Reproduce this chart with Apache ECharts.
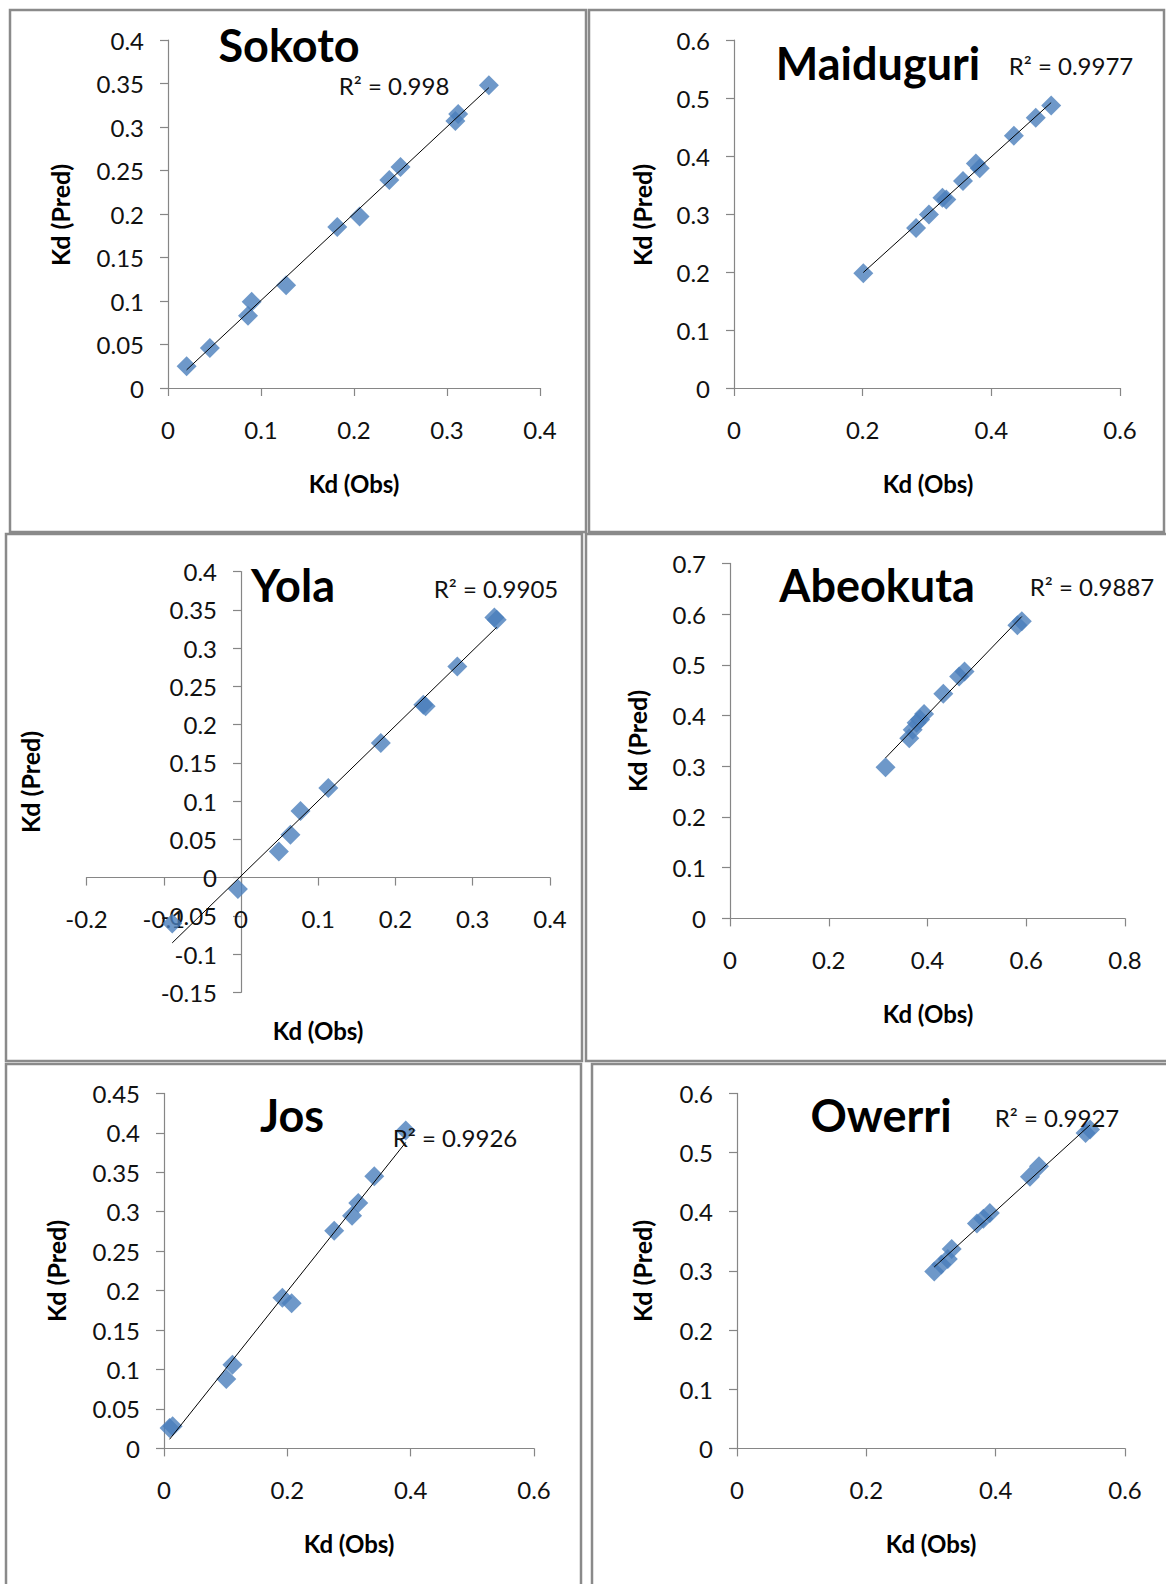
<html>
<head>
    <meta charset="utf-8">
    <title>Kd observed vs predicted</title>
    <style type="text/css">
        html, body { margin: 0; padding: 0; background: #fff; }
        #chart { width: 1166px; height: 1584px; }
    </style>
</head>
<body>
    <div id="chart"></div>

<script src="https://cdn.jsdelivr.net/npm/echarts@6/dist/echarts.min.js"></script>
<script>

    // values: Kd observed (x) vs Kd predicted (y)
    var sokotoObs = [0.020, 0.045, 0.086, 0.090, 0.127, 0.182, 0.206, 0.238, 0.250, 0.309, 0.312, 0.345];
    var sokotoPred = [0.025, 0.046, 0.083, 0.099, 0.118, 0.185, 0.197, 0.239, 0.254, 0.307, 0.315, 0.348];

    var maiduguriObs = [0.201, 0.283, 0.303, 0.324, 0.330, 0.356, 0.376, 0.382, 0.435, 0.469, 0.493];
    var maiduguriPred = [0.198, 0.276, 0.299, 0.328, 0.325, 0.357, 0.387, 0.379, 0.435, 0.466, 0.487];

    var yolaObs = [-0.089, -0.004, 0.049, 0.064, 0.077, 0.113, 0.181, 0.236, 0.239, 0.280, 0.328, 0.331];
    var yolaPred = [-0.060, -0.015, 0.034, 0.056, 0.087, 0.117, 0.176, 0.226, 0.224, 0.276, 0.340, 0.337];

    var abeokutaObs = [0.315, 0.363, 0.370, 0.378, 0.385, 0.393, 0.432, 0.464, 0.475, 0.582, 0.591];
    var abeokutaPred = [0.298, 0.355, 0.372, 0.386, 0.392, 0.403, 0.443, 0.477, 0.487, 0.578, 0.586];

    var josObs = [0.009, 0.014, 0.101, 0.111, 0.192, 0.207, 0.276, 0.305, 0.315, 0.341, 0.392];
    var josPred = [0.026, 0.028, 0.088, 0.106, 0.191, 0.184, 0.276, 0.295, 0.311, 0.345, 0.403];

    var owerriObs = [0.305, 0.316, 0.326, 0.332, 0.371, 0.381, 0.391, 0.453, 0.467, 0.539, 0.546];
    var owerriPred = [0.299, 0.311, 0.320, 0.337, 0.380, 0.388, 0.398, 0.459, 0.477, 0.533, 0.539];

    var stationNames = ['Sokoto', 'Maiduguri', 'Yola', 'Abeokuta', 'Jos', 'Owerri'];
    var r2Labels = ['R\u00b2 = 0.998', 'R\u00b2 = 0.9977', 'R\u00b2 = 0.9905', 'R\u00b2 = 0.9887', 'R\u00b2 = 0.9926', 'R\u00b2 = 0.9927'];

    // axis ranges [min, max, interval]
    var xRanges = [[0, 0.4, 0.1], [0, 0.6, 0.2], [-0.2, 0.4, 0.1], [0, 0.8, 0.2], [0, 0.6, 0.2], [0, 0.6, 0.2]];
    var yRanges = [[0, 0.4, 0.05], [0, 0.6, 0.1], [-0.15, 0.4, 0.05], [0, 0.7, 0.1], [0, 0.45, 0.05], [0, 0.6, 0.1]];

    // layout of each panel (page pixels)
    var panels = [
        { frame: [10, 10, 576, 522], grid: [168, 40, 372, 348], title: [289, 45], r2: [394, 85], yName: [60, 215], xName: [354, 483] },
        { frame: [589, 10, 575, 522], grid: [734, 40, 386, 348], title: [878, 63], r2: [1071, 65], yName: [642, 215], xName: [928, 483] },
        { frame: [6, 534, 576, 527], grid: [86.5, 571.6, 463.5, 420.7], title: [293, 585], r2: [496, 588], yName: [30, 782], xName: [318, 1030] },
        { frame: [586, 534, 600, 527], grid: [730, 563.4, 395, 355], title: [877, 585], r2: [1092, 586], yName: [637, 741], xName: [928, 1013] },
        { frame: [6, 1064, 575, 560], grid: [164, 1093.4, 370, 355], title: [292, 1115], r2: [455, 1137], yName: [56, 1271], xName: [349, 1543] },
        { frame: [592, 1064, 600, 560], grid: [737, 1093.4, 388, 355], title: [881, 1115], r2: [1057, 1117], yName: [642, 1271], xName: [931, 1543] }
    ];

    var obsData = [sokotoObs, maiduguriObs, yolaObs, abeokutaObs, josObs, owerriObs];
    var predData = [sokotoPred, maiduguriPred, yolaPred, abeokutaPred, josPred, owerriPred];

    var font = 'Lato, "Open Sans", sans-serif';
    var axisGray = '#868686';

    // least squares trendline, drawn from min to max observed value like Excel does
    function trend(xs, ys) {
        var n = xs.length, sx = 0, sy = 0, sxx = 0, sxy = 0;
        for (var i = 0; i < n; i++) {
            sx += xs[i]; sy += ys[i];
            sxx += xs[i] * xs[i]; sxy += xs[i] * ys[i];
        }
        var b = (n * sxy - sx * sy) / (n * sxx - sx * sx);
        var a = (sy - b * sx) / n;
        var lo = Math.min.apply(null, xs), hi = Math.max.apply(null, xs);
        return [[lo, a + b * lo], [hi, a + b * hi]];
    }

    // where the value 0 sits inside the grid, so axes can cross there (Yola panel)
    function zeroOffsets(g, xr, yr) {
        var xZero = g[2] * (0 - xr[0]) / (xr[1] - xr[0]);
        var yZero = g[3] * (yr[1] - 0) / (yr[1] - yr[0]);
        return { x: -(g[3] - yZero), y: -xZero };
    }

    var grids = [], xAxes = [], yAxes = [], series = [], graphics = [];

    for (var i = 0; i < panels.length; i++) {
        var p = panels[i];
        var off = zeroOffsets(p.grid, xRanges[i], yRanges[i]);

        graphics.push({
            type: 'rect', z: 0,
            shape: { x: p.frame[0], y: p.frame[1], width: p.frame[2], height: p.frame[3] },
            style: { fill: '#fff', stroke: '#8a8a8a', lineWidth: 2.5 }
        });

        grids.push({ left: p.grid[0], top: p.grid[1], width: p.grid[2], height: p.grid[3], containLabel: false });

        xAxes.push({
            gridIndex: i, type: 'value', position: 'bottom', offset: off.x,
            min: xRanges[i][0], max: xRanges[i][1], interval: xRanges[i][2],
            axisLine: { show: true, onZero: false, lineStyle: { color: axisGray, width: 1.2 } },
            axisTick: { show: true, length: 8, lineStyle: { color: axisGray, width: 1.2 } },
            axisLabel: { margin: 29, fontSize: 24, fontFamily: font, color: '#111' },
            splitLine: { show: false }
        });

        yAxes.push({
            gridIndex: i, type: 'value', position: 'left', offset: off.y,
            min: yRanges[i][0], max: yRanges[i][1], interval: yRanges[i][2],
            axisLine: { show: true, onZero: false, lineStyle: { color: axisGray, width: 1.2 } },
            axisTick: { show: true, length: 8, lineStyle: { color: axisGray, width: 1.2 } },
            axisLabel: { margin: 24, fontSize: 24, fontFamily: font, color: '#111' },
            splitLine: { show: false }
        });

        var points = obsData[i].map(function (v, k) { return [v, predData[i][k]]; });

        series.push({
            type: 'scatter', xAxisIndex: i, yAxisIndex: i,
            symbol: 'diamond', symbolSize: 20,
            itemStyle: { color: '#4a7ebb' },
            z: 2,
            data: points
        });

        series.push({
            type: 'line', xAxisIndex: i, yAxisIndex: i,
            symbol: 'none', silent: true,
            lineStyle: { color: '#000', width: 1 },
            z: 3,
            data: trend(obsData[i], predData[i])
        });

        // station title, R squared, axis titles
        graphics.push({
            type: 'text', z: 10, x: p.title[0], y: p.title[1],
            style: { text: stationNames[i], font: 'bold 45px ' + font, fill: '#000', align: 'center', verticalAlign: 'middle' }
        });
        graphics.push({
            type: 'text', z: 10, x: p.r2[0], y: p.r2[1],
            style: { text: r2Labels[i], font: '24px ' + font, fill: '#111', align: 'center', verticalAlign: 'middle' }
        });
        graphics.push({
            type: 'text', z: 10, x: p.xName[0], y: p.xName[1],
            style: { text: 'Kd (Obs)', font: 'bold 24px ' + font, fill: '#000', align: 'center', verticalAlign: 'middle' }
        });
        graphics.push({
            type: 'text', z: 10, x: p.yName[0], y: p.yName[1], rotation: Math.PI / 2,
            style: { text: 'Kd (Pred)', font: 'bold 25px ' + font, fill: '#000', align: 'center', verticalAlign: 'middle' }
        });
    }

    var chart = echarts.init(document.getElementById('chart'), null, { renderer: 'svg' });
    chart.setOption({
        animation: false,
        backgroundColor: '#fff',
        grid: grids,
        xAxis: xAxes,
        yAxis: yAxes,
        series: series,
        graphic: { elements: graphics }
    });

</script>
</body>
</html>
